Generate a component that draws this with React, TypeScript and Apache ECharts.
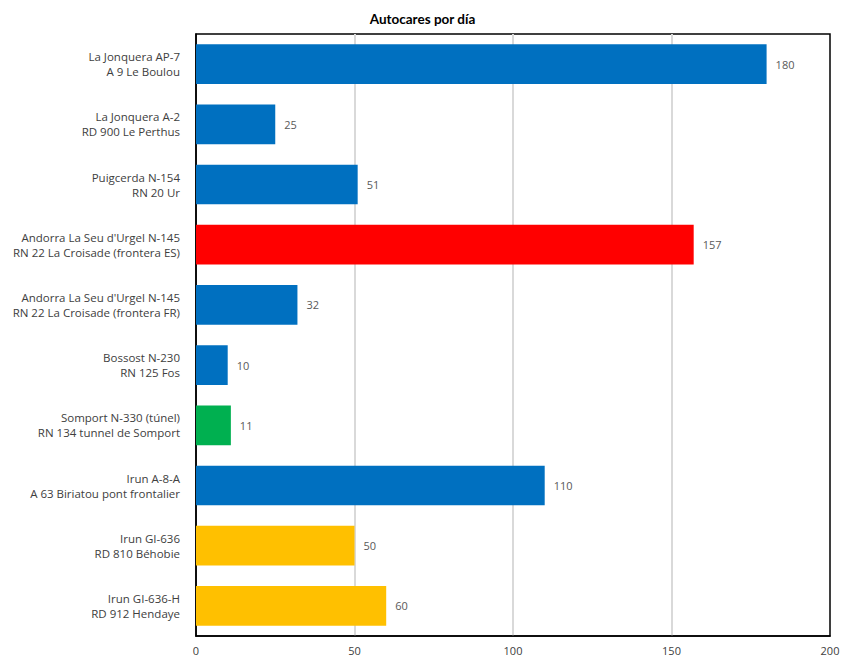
import React, { useEffect, useRef } from "react";
import * as echarts from "echarts";

const categories = [
  "La Jonquera AP-7\nA 9 Le Boulou",
  "La Jonquera A-2\nRD 900 Le Perthus",
  "Puigcerda N-154\nRN 20 Ur",
  "Andorra La Seu d'Urgel N-145\nRN 22 La Croisade (frontera ES)",
  "Andorra La Seu d'Urgel N-145\nRN 22 La Croisade (frontera FR)",
  "Bossost N-230\nRN 125 Fos",
  "Somport N-330 (túnel)\nRN 134 tunnel de Somport",
  "Irun A-8-A\nA 63 Biriatou pont frontalier",
  "Irun GI-636\nRD 810 Béhobie",
  "Irun GI-636-H\nRD 912 Hendaye",
];
const values = [180, 25, 51, 157, 32, 10, 11, 110, 50, 60];
const barColors = [
  "#0070C0", "#0070C0", "#0070C0", "#FF0000", "#0070C0",
  "#0070C0", "#00B050", "#0070C0", "#FFC000", "#FFC000",
];
const title = "Autocares por día";

const FONT = "'Open Sans', Lato, sans-serif";

export default function App() {
  const ref = useRef<HTMLDivElement>(null);
  useEffect(() => {
    const chart = echarts.init(ref.current!, null, { renderer: "svg" });
    chart.setOption({
      animation: false,
      backgroundColor: "#fff",
      title: {
        text: title,
        left: "center",
        top: 7,
        textStyle: { fontFamily: "Lato, sans-serif", fontSize: 13.5, fontWeight: "bold", color: "#000" },
      },
      grid: {
        left: 196,
        right: 15,
        top: 34,
        bottom: 21,
        show: true,
        borderColor: "#000",
        borderWidth: 1.5,
        containLabel: false,
      },
      xAxis: {
        type: "value",
        min: 0,
        max: 200,
        interval: 50,
        axisLine: { show: true, lineStyle: { color: "#000", width: 1.5 } },
        axisTick: { show: false },
        splitLine: {
          show: true,
          showMinLine: false,
          showMaxLine: false,
          lineStyle: { color: "#d9d9d9", width: 2 },
        },
        axisLabel: { fontFamily: FONT, fontSize: 11, color: "#404040", margin: 9 },
      },
      yAxis: {
        type: "category",
        data: categories,
        inverse: true,
        axisLine: { show: true, lineStyle: { color: "#000", width: 1.5 } },
        axisTick: { show: false },
        axisLabel: {
          fontFamily: FONT,
          fontSize: 11.5,
          color: "#404040",
          margin: 16,
          lineHeight: 15,
          align: "right",
        },
      },
      series: [
        {
          type: "bar",
          data: values.map((v, i) => ({ value: v, itemStyle: { color: barColors[i] } })),
          barCategoryGap: "34%",
          label: {
            show: true,
            position: "right",
            distance: 9,
            fontFamily: FONT,
            fontSize: 11,
            color: "#595959",
          },
        },
      ],
    });
    return () => chart.dispose();
  }, []);
  return (
    <div
      ref={ref}
      style={{ position: "fixed", left: 0, top: 0, width: 845, height: 657 }}
    />
  );
}
